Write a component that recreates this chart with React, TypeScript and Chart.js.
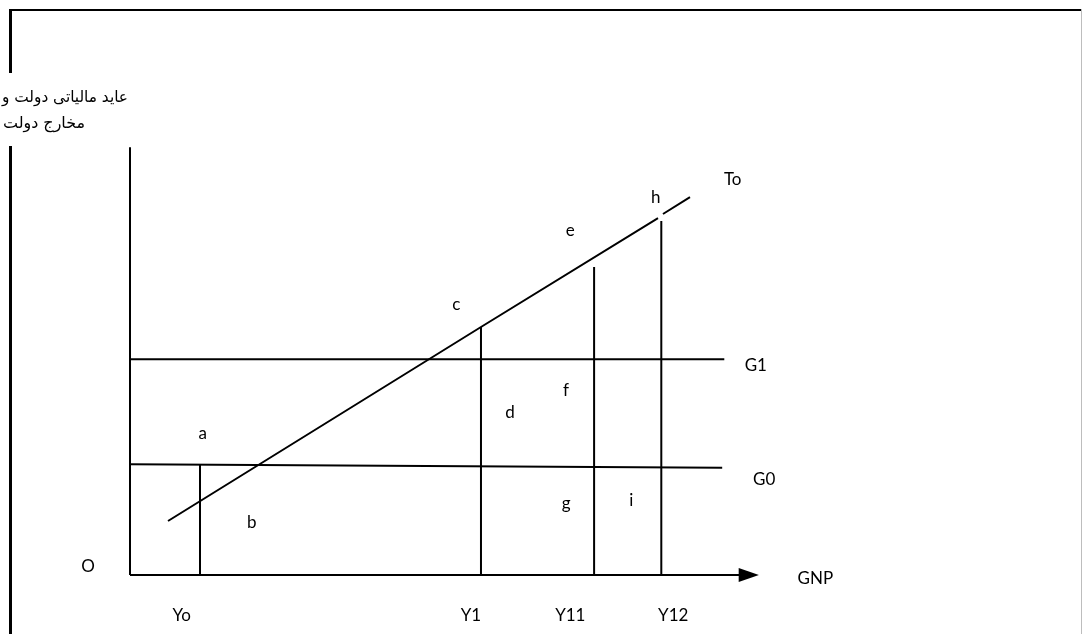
import React, { useEffect, useRef } from "react";
import { Chart, registerables } from "chart.js";

Chart.register(...registerables);

// Economic diagram data (x: GNP units, y: value units)
const axisY = [ { x: 0, y: 0 }, { x: 0, y: 99.5 } ];
const axisX = [ { x: 0, y: 0 }, { x: 87.1, y: 0 } ];
const arrowTip = 89.7;
const lineG1 = [ { x: 0, y: 50.2 }, { x: 84.9, y: 50.2 } ];
const lineG0 = [ { x: 0, y: 25.75 }, { x: 84.6, y: 24.95 } ];
const lineTo = [
  { x: 5.43, y: 12.56 },
  { x: 50.14, y: 57.67 },
  { x: 75.43, y: 83.0 },
  { x: 75.8, y: null },
  { x: 76.14, y: 83.95 },
  { x: 80.0, y: 87.9 },
];
const verticalX = [10, 50, 66.3, 75.9];
const verticalTopX = [10, 50.14, 66.3, 75.9];
const verticalTop = [25.7, 57.7, 71.6, 82.3];

const pointLabels = ["a", "b", "c", "d", "e", "f", "g", "h", "i", "To", "G1", "G0", "O", "GNP"];
const pointLabelX = [10.4, 17.4, 46.6, 54.3, 62.9, 62.3, 62.3, 75.1, 71.6, 86.1, 89.4, 90.6, -6, 97.9];
const pointLabelY = [33.0, 12.1, 62.8, 37.7, 80.2, 43.0, 16.7, 87.9, 17.4, 91.9, 48.8, 22.3, 1.9, -0.9];

const tickLabels = ["Yo", "Y1", "Y11", "Y12"];
const tickLabelX = [7.4, 48.7, 62.9, 77.6];
const tickLabelY = -9.5;

const yTitleLines = ["عايد مالياتی دولت و", "مخارج دولت"];

const W = 1083;
const H = 634;

export default function App() {
  const ref = useRef<HTMLCanvasElement | null>(null);

  useEffect(() => {
    const canvas = ref.current;
    if (!canvas) return;

    const lineDs = (data: any[]) => ({
      data,
      showLine: true,
      borderColor: "#000",
      borderWidth: 2,
      pointRadius: 0,
      fill: false,
      spanGaps: false,
    });

    const datasets: any[] = [
      lineDs(axisY),
      lineDs(axisX),
      lineDs(lineG1),
      lineDs(lineG0),
      lineDs(lineTo),
    ];
    verticalX.forEach((vx, i) => {
      datasets.push(lineDs([ { x: vx, y: 0 }, { x: verticalTopX[i], y: verticalTop[i] } ]));
    });

    const decor = {
      id: "decor",
      afterDraw(chart: any) {
        const ctx = chart.ctx as CanvasRenderingContext2D;
        const xs = chart.scales.x;
        const ys = chart.scales.y;
        ctx.save();
        // frame
        ctx.fillStyle = "#000";
        ctx.fillRect(9, 9, W - 10, 2);
        ctx.fillRect(9, 9, 3, 64);
        ctx.fillRect(9, 146, 3, H - 146);
        ctx.fillStyle = "#bdbdbd";
        ctx.fillRect(W - 2, 9, 1, H - 9);

        // arrow head
        const x0 = xs.getPixelForValue(axisX[1].x);
        const xt = xs.getPixelForValue(arrowTip);
        const y0 = ys.getPixelForValue(0);
        ctx.fillStyle = "#000";
        ctx.beginPath();
        ctx.moveTo(x0 - 1, y0 - 7);
        ctx.lineTo(xt + 1, y0);
        ctx.lineTo(x0 - 1, y0 + 7);
        ctx.closePath();
        ctx.fill();

        // labels
        ctx.font = "17px Lato, 'Open Sans', sans-serif";
        ctx.textAlign = "center";
        ctx.textBaseline = "middle";
        ctx.fillStyle = "#000";
        pointLabels.forEach((t, i) => {
          ctx.fillText(t, xs.getPixelForValue(pointLabelX[i]), ys.getPixelForValue(pointLabelY[i]));
        });
        tickLabels.forEach((t, i) => {
          ctx.fillText(t, xs.getPixelForValue(tickLabelX[i]), ys.getPixelForValue(tickLabelY));
        });

        // Persian y title (RTL, left-aligned)
        ctx.beginPath();
        ctx.rect(0, 73, 130, 73);
        ctx.clip();
        ctx.font = "16px 'DejaVu Sans', sans-serif";
        ctx.direction = "rtl";
        ctx.textAlign = "left";
        ctx.textBaseline = "alphabetic";
        ctx.fillText(yTitleLines[0], 2, 102, 126);
        ctx.fillText(yTitleLines[1], 3, 128, 82);
        ctx.restore();
      },
    };

    const chart = new Chart(canvas, {
      type: "scatter",
      data: { datasets },
      options: {
        animation: false,
        responsive: false,
        maintainAspectRatio: false,
        layout: { padding: 0 },
        plugins: { legend: { display: false }, tooltip: { enabled: false } },
        scales: {
          x: { type: "linear", display: false, min: -130 / 7, max: (W - 130) / 7 },
          y: { type: "linear", display: false, min: -(H - 575) / 4.3, max: 575 / 4.3 },
        },
      },
      plugins: [decor],
    });
    return () => chart.destroy();
  }, []);

  return (
    <div style={{ position: "fixed", left: 0, top: 0, width: W, height: H, background: "#fff" }}>
      <canvas ref={ref} width={W} height={H} style={{ width: W, height: H, display: "block" }} />
    </div>
  );
}
